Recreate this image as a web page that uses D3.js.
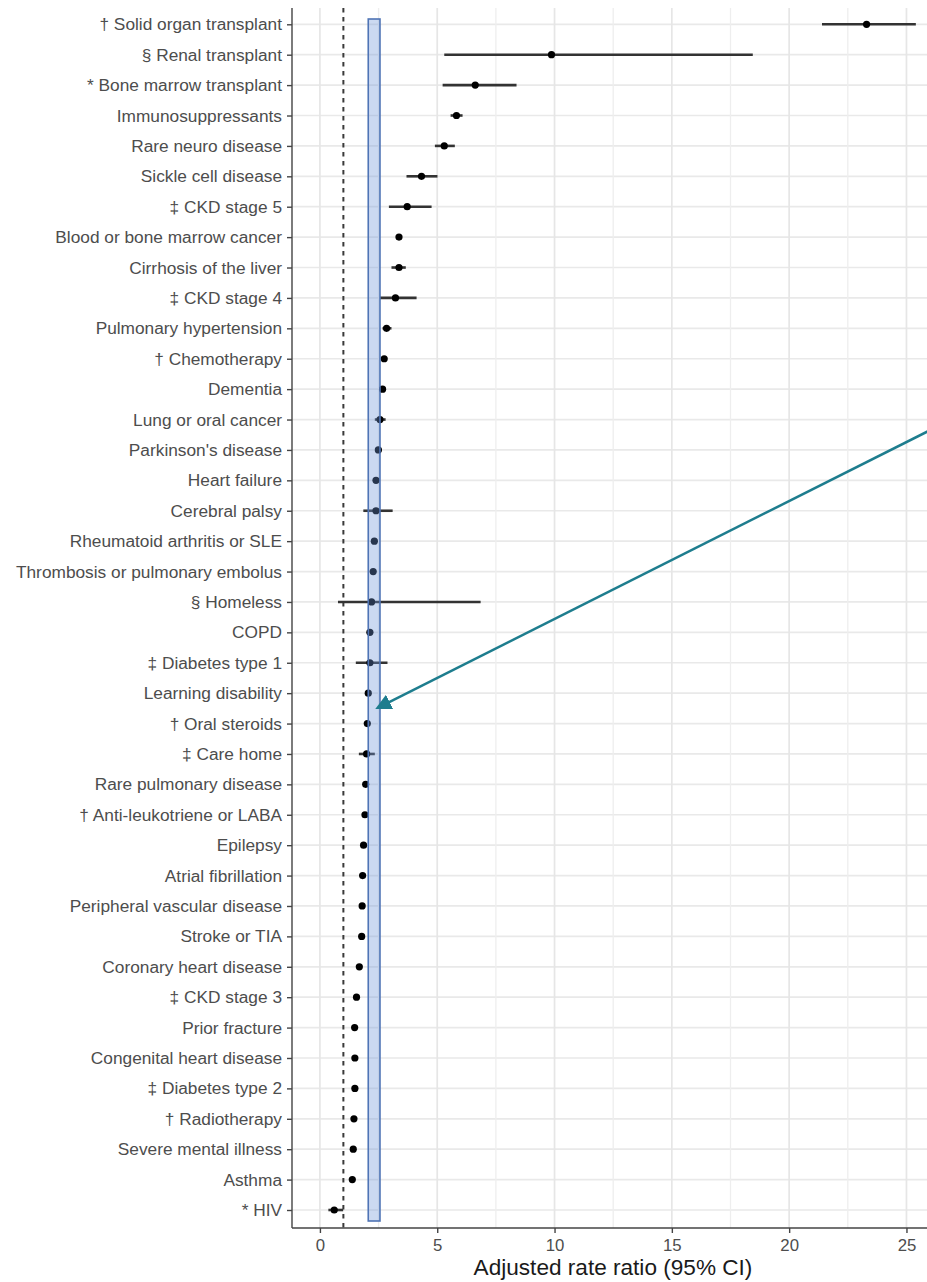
<!DOCTYPE html>
<html>
<head>
<meta charset="utf-8">
<script src="https://cdn.jsdelivr.net/npm/d3@7"></script>
<style>
  html, body { margin: 0; padding: 0; background: #ffffff; }
  svg { display: block; }
  text { font-family: "Liberation Sans", Arial, sans-serif; }
</style>
</head>
<body>
<svg id="chart" width="927" height="1282"></svg>
<script>
// Conditions, top to bottom
const categories = [
  "† Solid organ transplant", "§ Renal transplant", "* Bone marrow transplant",
  "Immunosuppressants", "Rare neuro disease", "Sickle cell disease",
  "‡ CKD stage 5", "Blood or bone marrow cancer", "Cirrhosis of the liver",
  "‡ CKD stage 4", "Pulmonary hypertension", "† Chemotherapy", "Dementia",
  "Lung or oral cancer", "Parkinson's disease", "Heart failure", "Cerebral palsy",
  "Rheumatoid arthritis or SLE", "Thrombosis or pulmonary embolus", "§ Homeless",
  "COPD", "‡ Diabetes type 1", "Learning disability", "† Oral steroids",
  "‡ Care home", "Rare pulmonary disease", "† Anti-leukotriene or LABA",
  "Epilepsy", "Atrial fibrillation", "Peripheral vascular disease",
  "Stroke or TIA", "Coronary heart disease", "‡ CKD stage 3", "Prior fracture",
  "Congenital heart disease", "‡ Diabetes type 2", "† Radiotherapy",
  "Severe mental illness", "Asthma", "* HIV"
];

// Adjusted rate ratio point estimates
const estimate = [
  23.3, 9.87, 6.62, 5.82, 5.30, 4.33, 3.72, 3.37, 3.37, 3.22,
  2.84, 2.74, 2.67, 2.56, 2.49, 2.39, 2.39, 2.32, 2.27, 2.20,
  2.13, 2.13, 2.06, 2.02, 1.99, 1.95, 1.92, 1.86, 1.82, 1.80,
  1.78, 1.68, 1.56, 1.48, 1.49, 1.49, 1.45, 1.42, 1.38, 0.61
];

// Lower 95% confidence limits
const lower = [
  21.4, 5.30, 5.23, 5.57, 4.90, 3.69, 2.94, 3.25, 3.05, 2.56,
  2.67, 2.62, 2.60, 2.34, 2.35, 2.33, 1.85, 2.25, 2.20, 0.77,
  2.08, 1.53, 1.99, 1.96, 1.66, 1.87, 1.87, 1.81, 1.78, 1.75,
  1.74, 1.65, 1.52, 1.44, 1.42, 1.46, 1.40, 1.38, 1.35, 0.36
];

// Upper 95% confidence limits
const upper = [
  25.4, 18.45, 8.38, 6.08, 5.75, 5.01, 4.76, 3.50, 3.66, 4.12,
  3.05, 2.86, 2.75, 2.80, 2.63, 2.45, 3.10, 2.40, 2.35, 6.85,
  2.19, 2.88, 2.13, 2.08, 2.34, 2.03, 1.97, 1.91, 1.86, 1.85,
  1.82, 1.71, 1.60, 1.52, 1.56, 1.52, 1.50, 1.46, 1.41, 0.99
];

// x-axis ticks
const majorTicks = [0, 5, 10, 15, 20, 25];
const minorTicks = [2.5, 7.5, 12.5, 17.5, 22.5];

// Null-effect reference line and highlighted band of rate ratios
const referenceRatio = 1;
const highlightBand = [2.06, 2.56];

// Callout arrow, in (rate ratio, row index) units
const arrowFrom = [26.5, 13.16];
const arrowTo = [2.55, 22.45];

const rows = categories.map((c, i) => ({ name: c, est: estimate[i], lo: lower[i], hi: upper[i] }));

const svg = d3.select("#chart");
const panel = { left: 292, right: 944, top: 8, bottom: 1228 };

const x = d3.scaleLinear().domain([-1.19, 26.6]).range([panel.left, panel.right]);
const y = d3.scalePoint().domain(categories).range([24.3, 1210]);
const yIdx = d3.scaleLinear().domain([0, categories.length - 1]).range([24.3, 1210]);

const grid = svg.append("g");
// horizontal gridlines at each condition
grid.selectAll("line.h").data(categories).join("line")
  .attr("x1", panel.left).attr("x2", panel.right)
  .attr("y1", d => y(d)).attr("y2", d => y(d))
  .attr("stroke", "#e9e9e9").attr("stroke-width", 1.7);
// minor vertical gridlines
grid.selectAll("line.vm").data(minorTicks).join("line")
  .attr("x1", d => x(d)).attr("x2", d => x(d))
  .attr("y1", panel.top).attr("y2", panel.bottom)
  .attr("stroke", "#eeeeee").attr("stroke-width", 1.3);
// major vertical gridlines
grid.selectAll("line.vM").data(majorTicks).join("line")
  .attr("x1", d => x(d)).attr("x2", d => x(d))
  .attr("y1", panel.top).attr("y2", panel.bottom)
  .attr("stroke", "#e6e6e6").attr("stroke-width", 1.7);

// dashed reference line at ratio 1
svg.append("line")
  .attr("x1", x(referenceRatio)).attr("x2", x(referenceRatio))
  .attr("y1", panel.top).attr("y2", panel.bottom)
  .attr("stroke", "#3a3a3a").attr("stroke-width", 2)
  .attr("stroke-dasharray", "4.5,4.5");

// confidence intervals
svg.append("g").selectAll("line").data(rows).join("line")
  .attr("x1", d => x(d.lo)).attr("x2", d => x(d.hi))
  .attr("y1", d => y(d.name)).attr("y2", d => y(d.name))
  .attr("stroke", "#333333").attr("stroke-width", 2.6);

// point estimates
svg.append("g").selectAll("circle").data(rows).join("circle")
  .attr("cx", d => x(d.est)).attr("cy", d => y(d.name))
  .attr("r", 3.6).attr("fill", "#000000");

// highlighted band, drawn over the points
svg.append("rect")
  .attr("x", x(highlightBand[0])).attr("width", x(highlightBand[1]) - x(highlightBand[0]))
  .attr("y", 19).attr("height", 1221 - 19)
  .attr("fill", "#6f95d8").attr("fill-opacity", 0.36)
  .attr("stroke", "#4f74b5").attr("stroke-width", 1.6);

// axes
const xAxis = d3.axisBottom(x).tickValues(majorTicks).tickSize(5).tickPadding(6).tickFormat(d3.format("d"));
const gx = svg.append("g").attr("transform", `translate(0,${panel.bottom})`).call(xAxis);
gx.select(".domain").attr("stroke", "#444444").attr("stroke-width", 1.4).attr("d", `M${panel.left},0H${panel.right}`);
gx.selectAll(".tick line").attr("stroke", "#444444").attr("stroke-width", 1.4);
gx.selectAll(".tick text").attr("fill", "#4d4d4d").attr("font-size", 16.8)
  .attr("font-family", "'Liberation Sans', Arial, sans-serif");

const yAxis = d3.axisLeft(y).tickSize(5).tickPadding(5);
const gy = svg.append("g").attr("transform", `translate(${panel.left},0)`).call(yAxis);
gy.select(".domain").attr("stroke", "#444444").attr("stroke-width", 1.4).attr("d", `M0,${panel.top}V${panel.bottom}`);
gy.selectAll(".tick line").attr("stroke", "#444444").attr("stroke-width", 1.4);
gy.selectAll(".tick text").attr("fill", "#4d4d4d").attr("font-size", 17.3)
  .attr("font-family", "'Liberation Sans', Arial, sans-serif");

// x-axis title
svg.append("text")
  .attr("x", 613).attr("y", 1275)
  .attr("text-anchor", "middle")
  .attr("font-size", 22.6).attr("fill", "#1a1a1a")
  .text("Adjusted rate ratio (95% CI)");

// callout arrow
const defs = svg.append("defs");
defs.append("marker")
  .attr("id", "arrowhead")
  .attr("viewBox", "0 -8 16 16")
  .attr("refX", 11).attr("refY", 0)
  .attr("markerWidth", 16).attr("markerHeight", 16)
  .attr("markerUnits", "userSpaceOnUse")
  .attr("orient", "auto")
  .append("path").attr("d", "M0,-8L16,0L0,8Z").attr("fill", "#1e7d8e");

svg.append("line")
  .attr("x1", x(arrowFrom[0])).attr("y1", yIdx(arrowFrom[1]))
  .attr("x2", x(arrowTo[0])).attr("y2", yIdx(arrowTo[1]))
  .attr("stroke", "#1e7d8e").attr("stroke-width", 2.5)
  .attr("marker-end", "url(#arrowhead)");
</script>
</body>
</html>
